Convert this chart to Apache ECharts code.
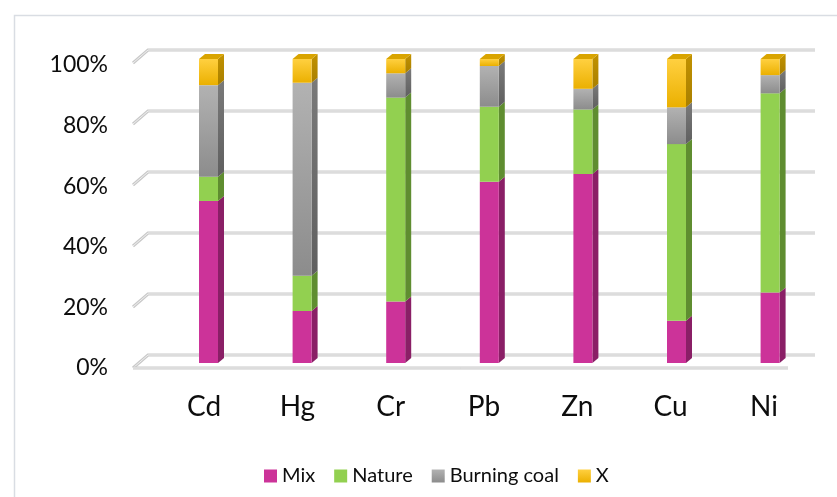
<!DOCTYPE html>
<html>
<head>
<meta charset="utf-8">
<script src="https://cdn.jsdelivr.net/npm/echarts@6/dist/echarts.min.js"></script>
<style>
html,body{margin:0;padding:0;background:#fff;}
#chart{width:837px;height:497px;}
</style>
</head>
<body>
<div id="chart"></div>
<script>
// ---- data ----
var categories = ['Cd', 'Hg', 'Cr', 'Pb', 'Zn', 'Cu', 'Ni'];
var seriesNames = ['Mix', 'Nature', 'Burning coal', 'X'];
var mix    = [53.3, 17.1, 20.2, 59.6, 62.2, 13.9, 23.2];
var nature = [8.0, 11.6, 67.1, 24.7, 21.2, 58.1, 65.5];
var coal   = [30.1, 63.5, 8.0, 13.4, 6.8, 12.1, 6.0];
var xVals  = [8.6, 7.8, 4.7, 2.3, 9.8, 15.9, 5.3];
var yTicks = [0, 20, 40, 60, 80, 100];

// ---- styles ----
function vgrad(a, b) {
  return {type: 'linear', x: 0, y: 0, x2: 0, y2: 1, colorStops: [{offset: 0, color: a}, {offset: 1, color: b}]};
}
var palettes = [
  {front: '#cc3399', side: '#8a1f66', top: '#a8287e', legend: '#cc3399'},
  {front: '#92d050', side: '#5f8d30', top: '#7ab83c', legend: '#92d050'},
  {front: vgrad('#b2b2b2', '#8c8c8c'), side: vgrad('#7a7a7a', '#5f5f5f'), top: '#9a9a9a', legend: vgrad('#b2b2b2', '#8c8c8c')},
  {front: vgrad('#ffd040', '#ebb000'), side: vgrad('#c29200', '#a87f00'), top: '#d9a400', legend: vgrad('#ffd040', '#ebb000')}
];

var allVals = [mix, nature, coal, xVals];
var HW = 9.5, DX = 6, DY = 5;

function makeRender(pal, isTop) {
  return function (params, api) {
    var i = api.value(0), b = api.value(1), t = api.value(2);
    var p0 = api.coord([i, b]), p1 = api.coord([i, t]);
    var xL = p0[0] - HW, xR = p0[0] + HW;
    var ch = [
      {type: 'polygon', shape: {points: [[xR, p1[1]], [xR + DX, p1[1] - DY], [xR + DX, p0[1] - DY], [xR, p0[1]]]}, style: {fill: pal.side}},
      {type: 'rect', shape: {x: xL, y: p1[1], width: 2 * HW, height: p0[1] - p1[1]}, style: {fill: pal.front}}
    ];
    if (isTop) {
      ch.push({type: 'polygon', shape: {points: [[xL, p1[1]], [xL + DX, p1[1] - DY], [xR + DX, p1[1] - DY], [xR, p1[1]]]}, style: {fill: pal.top}});
    }
    return {type: 'group', children: ch};
  };
}

var series = [];
var cum = categories.map(function () { return 0; });
allVals.forEach(function (vals, k) {
  var data = vals.map(function (v, i) {
    var b = cum[i];
    cum[i] = b + v;
    return [i, b, b + v];
  });
  series.push({
    type: 'custom',
    name: seriesNames[k],
    xAxisIndex: 0, yAxisIndex: 0,
    itemStyle: {color: palettes[k].legend},
    renderItem: makeRender(palettes[k], k === allVals.length - 1),
    data: data,
    z: 5
  });
});

// back wall / floor grid lines
series.push({
  type: 'custom',
  name: 'wall',
  xAxisIndex: 1, yAxisIndex: 1,
  silent: true,
  z: 1,
  renderItem: function (params, api) {
    var v = api.value(0);
    var pl = api.coord([0, v]), pr = api.coord([1, v]);
    var pts = [[pl[0] - 15, pl[1] + 13], pl, pr];
    var ch = [
      {type: 'polyline', shape: {points: pts}, style: {stroke: '#c9c9c9', lineWidth: 3, fill: null}},
      {type: 'polyline', shape: {points: pts}, style: {stroke: '#f0f0f0', lineWidth: 1, fill: null}}
    ];
    if (v === 0) {
      var fpts = [[pl[0] - 15, pl[1] + 13], [pr[0] - 27, pl[1] + 13]];
      ch.push({type: 'polyline', shape: {points: fpts}, style: {stroke: '#c9c9c9', lineWidth: 3, fill: null}});
      ch.push({type: 'polyline', shape: {points: fpts}, style: {stroke: '#f0f0f0', lineWidth: 1, fill: null}});
    }
    return {type: 'group', children: ch};
  },
  data: yTicks.map(function (v) { return [v]; })
});

var FONT = 'Lato';
var chart = echarts.init(document.getElementById('chart'));
chart.setOption({
  animation: false,
  backgroundColor: '#ffffff',
  textStyle: {fontFamily: FONT},
  graphic: [{
    type: 'rect', left: 12, top: 13, silent: true,
    shape: {x: 0, y: 0, width: 900, height: 600},
    style: {fill: null, stroke: '#d9dde3', lineWidth: 1.5}
  }],
  legend: {
    data: seriesNames,
    left: 259, top: 461,
    itemWidth: 13, itemHeight: 13, itemGap: 19,
    icon: 'rect',
    textStyle: {fontFamily: FONT, fontSize: 20, color: '#0d0d0d', padding: [0, 0, 0, 0]}
  },
  grid: [
    {left: 161.7, right: 20.1, top: 59, bottom: 134},   // bars
    {left: 148, right: 22, top: 50, bottom: 142},        // back wall
    {left: 118, right: 20, top: 65, bottom: 129},        // y labels
    {left: 157.4, right: 26.4, top: 59, bottom: 134}     // category labels
  ],
  xAxis: [
    {gridIndex: 0, type: 'category', data: categories, show: false},
    {gridIndex: 1, type: 'value', min: 0, max: 1, show: false},
    {gridIndex: 2, type: 'value', min: 0, max: 1, show: false},
    {gridIndex: 3, type: 'category', data: categories,
      axisLine: {show: false}, axisTick: {show: false},
      axisLabel: {fontFamily: FONT, fontSize: 28, color: '#0d0d0d', margin: 30}}
  ],
  yAxis: [
    {gridIndex: 0, type: 'value', min: 0, max: 100, show: false},
    {gridIndex: 1, type: 'value', min: 0, max: 100, show: false},
    {gridIndex: 2, type: 'value', min: 0, max: 100, interval: 20,
      axisLine: {show: false}, axisTick: {show: false}, splitLine: {show: false},
      axisLabel: {fontFamily: FONT, fontSize: 23, color: '#0d0d0d', margin: 10, formatter: '{value}%'}},
    {gridIndex: 3, type: 'value', min: 0, max: 100, show: false}
  ],
  series: series
});
</script>
</body>
</html>
